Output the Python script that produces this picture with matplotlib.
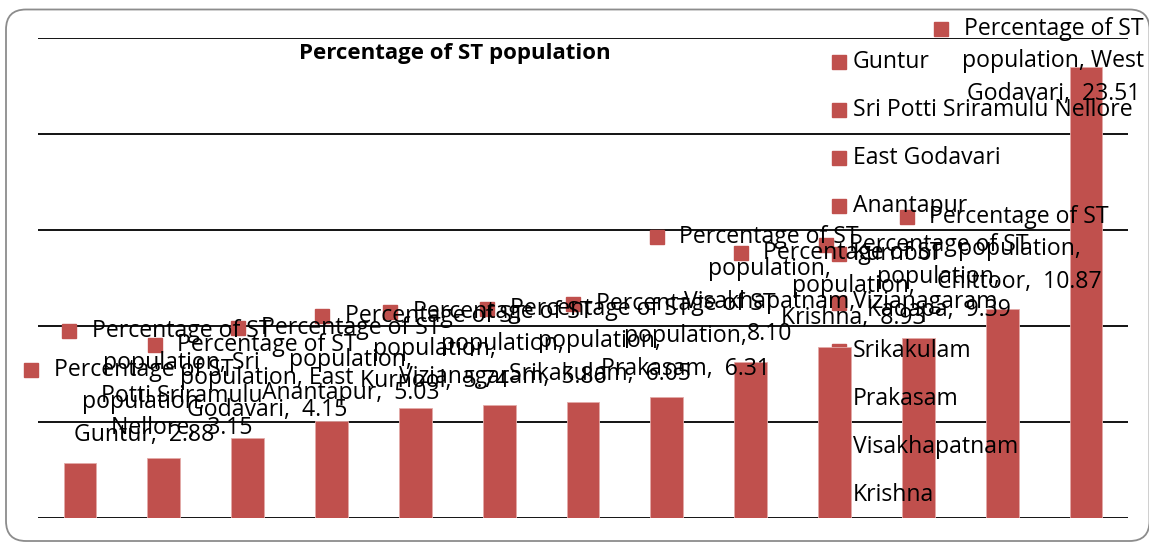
import textwrap
import matplotlib
matplotlib.use("Agg")
import matplotlib.pyplot as plt
from matplotlib.patches import FancyBboxPatch
from matplotlib.transforms import IdentityTransform

plt.rcParams['font.family'] = ['Open Sans', 'DejaVu Sans']

# Data
series_name = "Percentage of ST population"
districts = ["Guntur", "Sri Potti Sriramulu Nellore", "East Godavari", "Anantapur",
             "Kurnool", "Vizianagaram", "Srikakulam", "Prakasam", "Visakhapatnam",
             "Krishna", "Kadapa", "Chittoor", "West Godavari"]
st_pct = [2.88, 3.15, 4.15, 5.03, 5.74, 5.86, 6.05, 6.31, 8.10, 8.93, 9.39, 10.87, 23.51]

# where each data label (with its legend key) sits, in data units
label_x = [-0.58, -0.13, 0.89, 1.89, 2.89, 3.70, 4.86, 5.88, 6.88, 7.88, 8.90, 9.86, 10.27]
label_y = [7.71, 9.74, 9.01, 9.90, 10.52, 10.73, 10.89, 11.15, 14.64, 13.80, 14.22, 15.68, 25.47]

bar_color = '#C0504D'
fs = 16.6

fig = plt.figure(figsize=(11.49, 5.42), dpi=100)
ax = fig.add_axes([38 / 1149, 24 / 542, 1090 / 1149, 480 / 542])

ax.bar(range(len(districts)), st_pct, width=0.39, color=bar_color,
       edgecolor='#E3AAA8', linewidth=0.6, zorder=2)

ax.set_xlim(-0.5, len(districts) - 0.5)
ax.set_ylim(0, 25)
ax.set_yticks(range(0, 26, 5))
ax.set_xticks([])
ax.tick_params(length=0, labelleft=False)
ax.grid(axis='y', color='black', linewidth=1.3)
ax.set_axisbelow(True)
for s in ax.spines.values():
    s.set_visible(False)

# data labels: key square + wrapped "series, category, value"
for i, name in enumerate(districts):
    val = f"{st_pct[i]:.2f}"
    lines = textwrap.wrap(f"{series_name}, {name}, {val}", 18)
    lines[-1] = lines[-1].replace(", " + val, ",  " + val)
    ax.plot(label_x[i], label_y[i], 's', ms=10.5, color=bar_color,
            clip_on=False, zorder=3)
    for k, line in enumerate(lines):
        ax.annotate(line, (label_x[i], label_y[i]), xytext=(81, -k * 23.4),
                    textcoords='offset points', ha='center', va='center',
                    fontsize=fs, color='black', annotation_clip=False, zorder=4)

# legend: Excel shows only the entries that fit in the chart area
for k, name in enumerate(districts):
    yy = (518 - (61.5 + 48.2 * k)) / 480
    if yy < 0:
        break
    ax.plot(0.7353, yy, 's', ms=10.5, color=bar_color, transform=ax.transAxes,
            clip_on=False, zorder=1)
    ax.text(0.7477, yy, name, transform=ax.transAxes, ha='left', va='center',
            fontsize=fs, color='black', zorder=4)

fig.text(455 / 1149, 1 - 53 / 542, series_name, ha='center', va='center',
         fontsize=16, fontweight='bold')

# rounded chart-area border
border = FancyBboxPatch((6, 1), 1143.5, 531.5, boxstyle="round,pad=0,rounding_size=20",
                        transform=IdentityTransform(), fc='none', ec='#8c8c8c', lw=1.3)
fig.add_artist(border)

fig.savefig("out.png", dpi=100)
